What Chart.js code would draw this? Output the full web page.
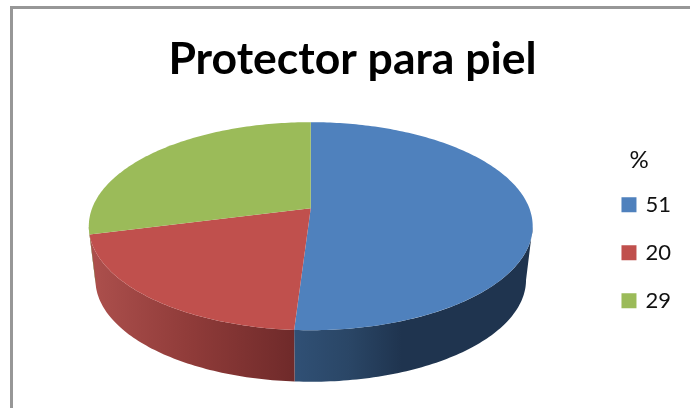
<!DOCTYPE html>
<html>
<head>
<meta charset="utf-8">
<style>
    html, body { margin: 0; background: #fff; }
    .frame { position: absolute; left: 10px; top: 6px; width: 677px; height: 399px; border-left: 3px solid #979797; border-top: 3px solid #979797; }
    canvas { display: block; }
</style>
<script src="https://cdn.jsdelivr.net/npm/chart.js@4"></script>
</head>
<body>
<div class="frame"><canvas id="pieChart" width="677" height="399"></canvas></div>
<script>
const categories = ['51', '20', '29'];
const values = [51, 20, 29];
const legendTitle = '%';
const chartTitle = 'Protector para piel';
const faceColors = ['#4f81bd', '#c0504d', '#9bbb59'];
const wallStops = [
    [[0, '#305075'], [0.23, '#2a4666'], [0.45, '#1f344f'], [1, '#1f344f']],
    [[0, '#ad504d'], [0.5, '#8f3b39'], [1, '#6f2a2a']],
    [[0, '#6f8a3e'], [1, '#6f8a3e']]
];

const FONT = 'Lato, "Open Sans", sans-serif';
const DEG = Math.PI / 180;

// tilted disc: k is the perspective of the plate, wall is the rim underneath
const tilt = { rx: 218.6, ry: 100.9, k: 0.173, apexDy: -48, wallDy: 54, wallRx: 0.97, wallRy: 0.98 };

function project(arc, a, low) {
    const x = Math.cos(a), y = Math.sin(a);
    const w = 1 - tilt.k * y;
    const rx = low ? tilt.rx * tilt.wallRx : tilt.rx;
    const ry = low ? tilt.ry * tilt.wallRy : tilt.ry;
    return [arc.x + rx * x / w, arc.y + tilt.apexDy + (low ? tilt.wallDy : 0) + ry * y / w];
}

function samples(from, to) {
    const out = [];
    const n = Math.max(2, Math.ceil((to - from) / DEG));
    for (let i = 0; i <= n; i++) out.push(from + (to - from) * i / n);
    return out;
}

const disc3d = {
    id: 'disc3d',
    beforeDatasetsDraw(chart) {
        const ctx = chart.ctx;
        const arcs = chart.getDatasetMeta(0).data;

        // front wall first, only the part turned to the viewer
        arcs.forEach((arc, i) => {
            const from = Math.max(arc.startAngle, 10 * DEG);
            const to = Math.min(arc.endAngle, 170 * DEG);
            if (to <= from) return;
            const top = samples(from, to).map(a => project(arc, a, false));
            const low = samples(from, to).map(a => project(arc, a, true)).reverse();
            const pts = top.concat(low);
            const xs = pts.map(p => p[0]);
            const grad = ctx.createLinearGradient(Math.min(...xs), 0, Math.max(...xs), 0);
            wallStops[i].forEach(s => grad.addColorStop(s[0], s[1]));
            ctx.beginPath();
            pts.forEach((p, j) => j ? ctx.lineTo(p[0], p[1]) : ctx.moveTo(p[0], p[1]));
            ctx.closePath();
            ctx.fillStyle = grad;
            ctx.fill();
        });

        arcs.forEach((arc, i) => {
            ctx.beginPath();
            ctx.moveTo(arc.x, arc.y + tilt.apexDy);
            samples(arc.startAngle, arc.endAngle).forEach(a => {
                const p = project(arc, a, false);
                ctx.lineTo(p[0], p[1]);
            });
            ctx.closePath();
            ctx.fillStyle = faceColors[i];
            ctx.fill();
        });
        return false;
    }
};

new Chart(document.getElementById('pieChart'), {
    type: 'pie',
    data: {
        labels: categories,
        datasets: [{ data: values, backgroundColor: faceColors, borderColor: faceColors, borderWidth: 4 }]
    },
    options: {
        responsive: false,
        animation: false,
        layout: { padding: { left: 11, right: 9, top: 0, bottom: 0 } },
        plugins: {
            tooltip: { enabled: false },
            title: {
                display: true,
                text: chartTitle,
                color: '#000',
                font: { family: FONT, size: 44.5, weight: 'bold' },
                padding: { top: 24, bottom: 18 }
            },
            legend: {
                position: 'right',
                align: 'start',
                title: {
                    display: true,
                    text: legendTitle,
                    color: '#111',
                    font: { family: FONT, size: 24 },
                    padding: { top: 139, bottom: -9 }
                },
                labels: {
                    color: '#111',
                    font: { family: FONT, size: 22 },
                    boxWidth: 11,
                    boxHeight: 11,
                    padding: 26
                }
            }
        }
    },
    plugins: [disc3d]
});
</script>
</body>
</html>
